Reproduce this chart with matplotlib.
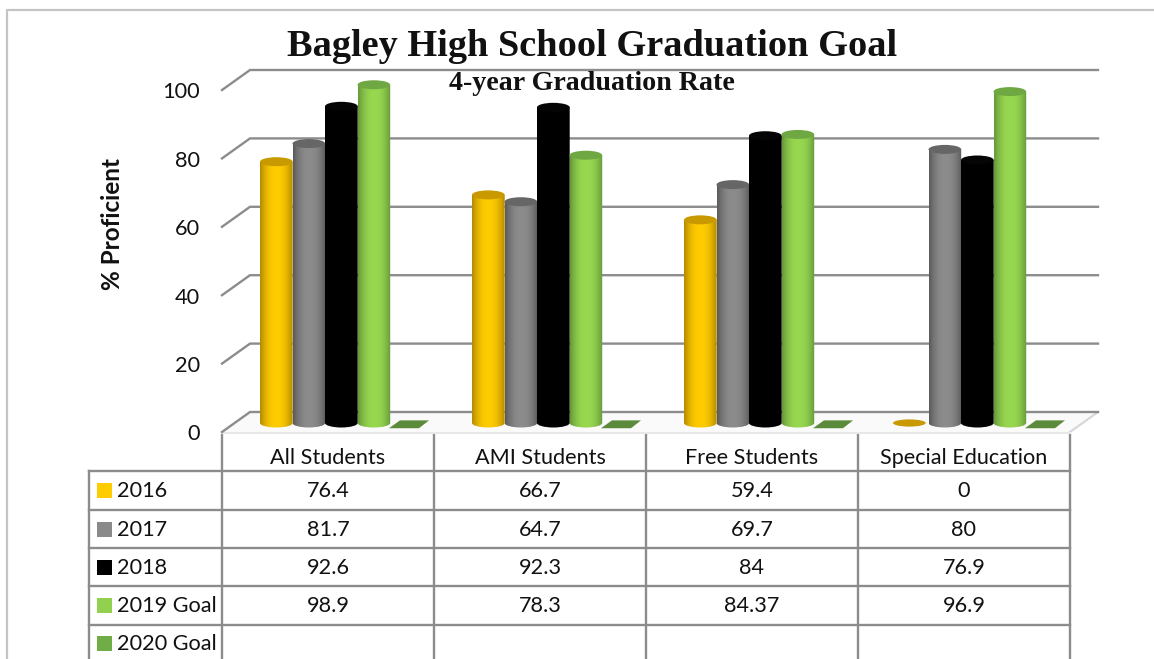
import matplotlib
matplotlib.use("Agg")
import matplotlib.pyplot as plt
from matplotlib.patches import Ellipse, PathPatch, Polygon, Rectangle
from matplotlib.path import Path
import numpy as np

# Chart data
categories = ["All Students", "AMI Students", "Free Students", "Special Education"]
series_names = ["2016", "2017", "2018", "2019 Goal", "2020 Goal"]
values_2016 = [76.4, 66.7, 59.4, 0]
values_2017 = [81.7, 64.7, 69.7, 80]
values_2018 = [92.6, 92.3, 84, 76.9]
values_2019 = [98.9, 78.3, 84.37, 96.9]
values_2020 = [None, None, None, None]
table_2016 = ["76.4", "66.7", "59.4", "0"]
table_2017 = ["81.7", "64.7", "69.7", "80"]
table_2018 = ["92.6", "92.3", "84", "76.9"]
table_2019 = ["98.9", "78.3", "84.37", "96.9"]
table_2020 = ["", "", "", ""]
y_ticks = [0, 20, 40, 60, 80, 100]

W, H = 1154, 659
GRID = "#8c8c8c"
SANS = "Lato"
# light, dark pairs for the cylinder shading
colors = [("#ffcc00", "#b38a00"), ("#8c8c8c", "#5a5a5a"), ("#000000", "#000000"),
          ("#98d850", "#64983a"), ("#70ad47", "#548235")]
cap_colors = ["#c89a00", "#666666", "#050505", "#6fa843", "#5a8a35"]
key_colors = ["#ffcc00", "#8a8a8a", "#000000", "#92d050", "#70ad47"]

fig = plt.figure(figsize=(W / 100, H / 100), dpi=100)

# page layer in pixel coordinates: border, table and titles
page = fig.add_axes([0, 0, 1, 1])
page.set_xlim(0, W)
page.set_ylim(H, 0)
page.axis("off")

# plot layer: x = category number, y = percent on the front edge
# the axes run up to 110 so the tallest cylinder is not cut off
y_max = 110
left, right, bottom = 222, 1070, 432
top = bottom - 3.42 * y_max
ax = fig.add_axes([left / W, 1 - bottom / H, (right - left) / W, (bottom - top) / H])
ax.set_xlim(0, len(categories))
ax.set_ylim(0, y_max)
ax.axis("off")
ax.patch.set_alpha(0)

depth_x = 28 / 212
depth_y = 20 / 3.42
bar_lift = 9 / 3.42
px_x = 1 / 212
px_y = 1 / 3.42

# floor
ax.add_patch(Polygon([(0, 0), (depth_x, depth_y), (4 + depth_x, depth_y), (4, 0)],
                     closed=True, fc="#fafafa", ec="none", clip_on=False, zorder=1))
ax.plot([4, 4 + depth_x], [0, depth_y], color="#d8d8d8", lw=1.6, clip_on=False, zorder=1)
ax.plot([0, 4], [-0.3, -0.3], color="#e8e8e8", lw=1.5, clip_on=False, zorder=1)

# wall gridlines with the diagonal at the left
for t in y_ticks:
    ax.plot([0, depth_x, 4 + depth_x], [t, t + depth_y, t + depth_y], color=GRID,
            lw=1.7, clip_on=False, zorder=2, solid_joinstyle="miter")
    ax.text(-22 * px_x, t - 0.7, str(t), ha="right", va="center", fontsize=15.7,
            family=SANS, color="#111111", clip_on=False)

bar_w = 32.7 * px_x
bar_offsets = np.array([-68, -35.5, -3, 29.5]) * px_x
cap_h = 9 * px_y

# vertical shading across one cylinder
ramp = np.abs(np.linspace(-1, 1, 64)) ** 2.2


def draw_cylinder(x0, value, idx):
    light = np.array(matplotlib.colors.to_rgb(colors[idx][0]))
    dark = np.array(matplotlib.colors.to_rgb(colors[idx][1]))
    img = (light[None, :] * (1 - ramp[:, None]) + dark[None, :] * ramp[:, None])[None, :, :]
    y0 = bar_lift
    y1 = y0 + value
    im = ax.imshow(img, extent=(x0, x0 + bar_w, y0 - cap_h / 2, y1), aspect="auto",
                   zorder=5 + idx * 0.1, interpolation="bilinear")
    # body with a round base
    rx = bar_w / 2
    ry = cap_h / 2
    k = 0.5523
    cx = x0 + rx
    verts = [(x0, y1), (x0, y0), (x0, y0 - k * ry), (cx - k * rx, y0 - ry), (cx, y0 - ry),
             (cx + k * rx, y0 - ry), (x0 + bar_w, y0 - k * ry), (x0 + bar_w, y0),
             (x0 + bar_w, y1), (x0, y1)]
    codes = [Path.MOVETO, Path.LINETO, Path.CURVE4, Path.CURVE4, Path.CURVE4,
             Path.CURVE4, Path.CURVE4, Path.CURVE4, Path.LINETO, Path.CLOSEPOLY]
    clip = PathPatch(Path(verts, codes), transform=ax.transData)
    im.set_clip_path(clip)
    ax.add_patch(Ellipse((cx, y1), bar_w, cap_h, fc=cap_colors[idx], ec="none",
                         zorder=5.05 + idx * 0.1, clip_on=False))


all_values = [values_2016, values_2017, values_2018, values_2019]
for s, vals in enumerate(all_values):
    for c, v in enumerate(vals):
        x0 = c + 0.5 + bar_offsets[s]
        if v == 0:
            # zero value: only the flat cap is left
            ax.add_patch(Ellipse((x0 + bar_w / 2 - 3 * px_x, bar_lift), bar_w, cap_h * 0.8,
                                 fc=cap_colors[s], ec="none", zorder=4, clip_on=False))
        else:
            draw_cylinder(x0, v, s)

# the empty 2020 Goal series only shows a flat tile on the floor
for c, v in enumerate(values_2020):
    x0 = c + 0.5 + 61 * px_x
    ax.add_patch(Polygon([(x0, 1.1), (x0 + 30 * px_x, 1.1), (x0 + 40 * px_x, 3.4), (x0 + 11 * px_x, 3.4)],
                         closed=True, fc="#5b8a3a", ec="none", zorder=4, clip_on=False))

ax.set_xlim(0, len(categories))
ax.set_ylim(0, y_max)

# page border
page.plot([7, 7, W], [H, 10, 10], color="#c4c4c4", lw=1.6)

# titles, the subtitle sits in front of the cylinders' layer
fig.text(592 / W, 1 - 46 / H, "Bagley High School Graduation Goal", ha="center", va="center",
         fontsize=27.6, fontweight="bold", family="Liberation Serif", color="#111111")
fig.text(592 / W, 1 - 84 / H, "4-year Graduation Rate", ha="center", va="center", fontsize=20.2,
         fontweight="bold", family="Liberation Serif", color="#111111")
page.text(113, 224, "% Proficient", rotation=90, ha="center", va="center", fontsize=17.5,
          fontweight="bold", family=SANS, color="#111111")

# data table
col_x = [222, 434, 646, 858, 1070]
row_y = [471, 510, 548, 586, 625]
for x in col_x:
    page.plot([x, x], [435, H], color=GRID, lw=1.7)
page.plot([89, 89], [row_y[0], H], color=GRID, lw=1.7)
for y in row_y:
    page.plot([89, 1070], [y, y], color=GRID, lw=1.7)

for c, name in enumerate(categories):
    page.text((col_x[c] + col_x[c + 1]) / 2, 458, name, ha="center", va="center",
              fontsize=15.6, family=SANS, color="#111111")

table_rows = [table_2016, table_2017, table_2018, table_2019, table_2020]
row_mid = [491, 530, 568, 606, 644]
for r, name in enumerate(series_names):
    page.add_patch(Rectangle((97, row_mid[r] - 8), 15, 15, fc=key_colors[r], ec="none"))
    page.text(117, row_mid[r], name, ha="left", va="center", fontsize=15.6, family=SANS,
              color="#111111")
    for c, label in enumerate(table_rows[r]):
        page.text((col_x[c] + col_x[c + 1]) / 2, row_mid[r], label, ha="center", va="center",
                  fontsize=15.6, family=SANS, color="#111111")

fig.savefig("out.png", dpi=100)
